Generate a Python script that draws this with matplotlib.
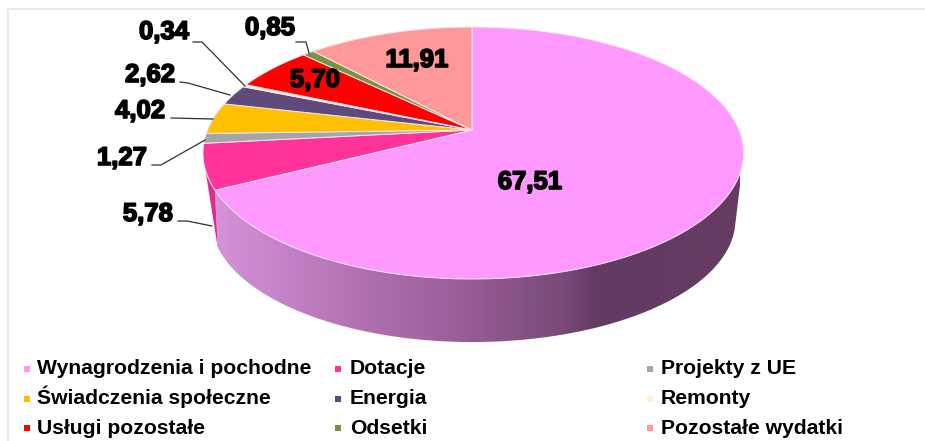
import numpy as np
import matplotlib
matplotlib.use("Agg")
import matplotlib.pyplot as plt
import matplotlib.patheffects as pe
from matplotlib.colors import LinearSegmentedColormap
from matplotlib.patches import Polygon

categories = ["Wynagrodzenia i pochodne", "Dotacje", "Projekty z UE", "Świadczenia społeczne",
              "Energia", "Remonty", "Usługi pozostałe", "Odsetki", "Pozostałe wydatki"]
values = [67.51, 5.78, 1.27, 4.02, 2.62, 0.34, 5.70, 0.85, 11.91]
colors = ["#FF99FF", "#FF3399", "#A6A6A6", "#FFC000", "#604A7B", "#FFF2CC", "#FF0000", "#77933C", "#FF9999"]
side_dotacje = "#E02C8E"

plt.rcParams["font.family"] = ["Liberation Sans", "DejaVu Sans"]
fig = plt.figure(figsize=(9.25, 4.41), dpi=100)
ax = fig.add_axes([0, 0, 1, 1])
ax.set_xlim(0, 925)
ax.set_ylim(441, 0)
ax.axis("off")

cx, cy, A_right, A_left, B, k = 472.0, 130.0, 267.0, 264.5, 121.8, 0.1826
drop, shrink = 67.5, 0.97


def project(theta, top=True):
    theta = np.asarray(theta, dtype=float)
    X, Y = np.sin(theta), np.cos(theta)
    w = 1 + k * Y
    A = np.where(X >= 0, A_right, A_left)
    if top:
        return cx + A * X / w, cy - B * Y / w
    return cx + shrink * A * X / w, cy + drop - shrink * B * Y / w


edges = np.concatenate([[0], np.cumsum(values)]) / sum(values) * 2 * np.pi

# side wall of the largest slice: horizontal gradient clipped to the wall outline
wall = LinearSegmentedColormap.from_list(
    "wall", [(0, "#D493DA"), (0.22, "#B877B8"), (0.45, "#9C5F9C"), (0.66, "#7A4A78"),
             (0.73, "#633A62"), (1, "#663C63")])
t_start = np.radians(105)
bottom_shift = np.radians(4)
top_t = np.linspace(t_start, edges[1], 300)
bot_t = np.linspace(edges[1] + bottom_shift, t_start - np.radians(2), 300)
xt, yt = project(top_t)
xb, yb = project(bot_t, top=False)
wall_poly = Polygon(np.c_[np.r_[xt, xb], np.r_[yt, yb]], closed=True, transform=ax.transData,
                    facecolor="none", edgecolor="none")
ax.add_patch(wall_poly)
im = ax.imshow(np.linspace(0, 1, 512)[None, :], cmap=wall, extent=(215, 740, 345, 150),
               aspect="auto", zorder=2, interpolation="bilinear")
im.set_clip_path(wall_poly)
ax.set_xlim(0, 925)
ax.set_ylim(441, 0)

# side wall of the second slice, a narrow wedge
dt = np.linspace(edges[1], np.radians(252), 60)
xd, yd = project(dt)
xe, ye = project(edges[1] + bottom_shift, top=False)
ax.fill(np.r_[xd, xe], np.r_[yd, ye], color=side_dotacje, lw=0, zorder=2)

# top face
for i, c in enumerate(colors):
    tt = np.linspace(edges[i], edges[i + 1], 200)
    x, y = project(tt)
    ax.fill(np.r_[cx, x], np.r_[cy, y], facecolor=c, edgecolor="#F6E6F0", lw=0.7, zorder=3)

# data labels
label_pos = [(530, 189), (148, 221), (122, 165), (140, 118), (150, 82), (164, 39), (315, 87), (270, 35), (417, 67)]
stroke = [pe.withStroke(linewidth=1.2, foreground="black")]
for v, (lx, ly) in zip(values, label_pos):
    ax.text(lx, ly, f"{v:.2f}".replace(".", ","), ha="center", va="baseline", fontsize=18.5,
            fontweight="bold", color="black", path_effects=stroke, zorder=6)

leaders = [
    ([178, 187, 212], [221, 221, 226]),
    ([152, 161, 205], [165, 165, 140]),
    ([171, 213], [118, 119]),
    ([180, 188, 230], [82, 83, 95]),
    ([193, 202, 245], [42, 42, 86]),
    ([296, 306, 309], [42, 42, 53]),
]
for lx, ly in leaders:
    ax.plot(lx, ly, color="#303030", lw=0.9, zorder=5)

# legend
marker_x = [27, 338, 650]
text_x = [37, 350, 661]
row_y = [369, 399, 428]
for i, (name, c) in enumerate(zip(categories, colors)):
    r, q = divmod(i, 3)
    ax.plot(marker_x[q], row_y[r], marker="s", ms=4.8, color=c, mew=0, zorder=6)
    ax.text(text_x[q], row_y[r] + 5.5, name, ha="left", va="baseline", fontsize=15.2,
            fontweight="bold", color="black", zorder=6)

# outer frame of the source picture
ax.plot([8, 8, 925], [441, 9, 9], color="#E6E6E6", lw=1.3, zorder=1)

fig.savefig("out.png", dpi=100, facecolor="white")
